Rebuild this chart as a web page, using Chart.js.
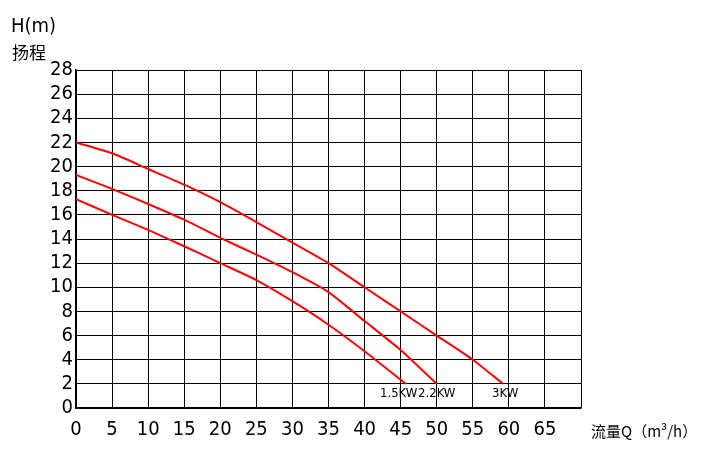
<!DOCTYPE html>
<html>
<head>
<meta charset="utf-8">
<script src="https://cdn.jsdelivr.net/npm/chart.js@4/dist/chart.umd.min.js"></script>
<style>
  html, body { margin: 0; padding: 0; background: #fff; }
  #wrap { width: 703px; height: 454px; position: relative; }
</style>
</head>
<body>
<div id="wrap"><canvas id="pumpChart"></canvas></div>
<script>
// pump curves, flow Q (m3/h) vs head H (m)
const flow15 = [0, 5, 10, 15, 20, 25, 30, 35, 40, 45.7];
const head15 = [17.3, 16.0, 14.75, 13.4, 12.0, 10.6, 8.85, 6.9, 4.7, 2];

const flow22 = [0, 5, 10, 15, 20, 25, 30, 35, 40, 45, 50];
const head22 = [19.3, 18.15, 16.9, 15.6, 14.1, 12.7, 11.25, 9.6, 7.2, 4.8, 2];

const flow30 = [0, 5, 10, 15, 20, 25, 30, 35, 40, 45, 50, 55, 59.2];
const head30 = [22.0, 21.1, 19.8, 18.5, 17.05, 15.4, 13.7, 12.0, 10.0, 8.0, 6.0, 4.0, 2];

const seriesNames = ['1.5KW', '2.2KW', '3KW'];
const xTicks = [0, 5, 10, 15, 20, 25, 30, 35, 40, 45, 50, 55, 60, 65];

const narrow = '"DejaVu Sans Condensed", "Liberation Sans Narrow", sans-serif';

function pts(xs, ys) {
    return xs.map((x, i) => ({ x: x, y: ys[i] }));
}

// horizontal nudge of the end labels, px
const labelShift = [-7, 0, 2];

// labels at the end of each curve + axis titles
const labelPlugin = {
    id: 'labels',
    afterDraw(chart) {
        const ctx = chart.ctx;
        const xs = chart.scales.x, ys = chart.scales.y;
        ctx.save();
        ctx.fillStyle = '#000';
        ctx.font = '13px ' + narrow;
        ctx.textBaseline = 'top';
        ctx.textAlign = 'center';
        chart.data.datasets.forEach((ds, i) => {
            const last = ds.data[ds.data.length - 1];
            const px = xs.getPixelForValue(last.x);
            const py = ys.getPixelForValue(last.y);
            ctx.fillText(seriesNames[i], px + labelShift[i], py + 3);
        });
        ctx.textAlign = 'left';
        ctx.textBaseline = 'alphabetic';
        ctx.font = '20px ' + narrow;
        ctx.fillText('H(m)', 11, 32);
        ctx.font = '17px "Noto Sans CJK SC"';
        ctx.fillText('扬程', 12, 59);
        ctx.font = '15px "Noto Sans CJK SC"';
        ctx.textBaseline = 'middle';
        ctx.fillText('流量Q（m³/h）', 591, 431);
        ctx.restore();
    }
};

const lineStyle = { borderColor: '#ff0000', borderWidth: 2, pointRadius: 0, fill: false, tension: 0.2 };

new Chart(document.getElementById('pumpChart'), {
    type: 'line',
    data: {
        datasets: [
            Object.assign({ label: seriesNames[0], data: pts(flow15, head15) }, lineStyle),
            Object.assign({ label: seriesNames[1], data: pts(flow22, head22) }, lineStyle),
            Object.assign({ label: seriesNames[2], data: pts(flow30, head30) }, lineStyle)
        ]
    },
    options: {
        responsive: true,
        maintainAspectRatio: false,
        animation: false,
        layout: { padding: { left: 0, top: 70, right: 122, bottom: 0 } },
        plugins: { legend: { display: false }, tooltip: { enabled: false } },
        scales: {
            x: {
                type: 'linear',
                min: 0, max: 70,
                afterFit(s) { s.height = 46; },
                afterBuildTicks(s) { s.ticks = xTicks.concat([70]).map(v => ({ value: v })); },
                ticks: {
                    color: '#000', padding: 10,
                    font: { family: narrow, size: 20 },
                    maxRotation: 0, autoSkip: false,
                    callback: v => (v === 70 ? '' : v)
                },
                grid: { color: '#000', lineWidth: 1, drawTicks: false },
                border: { color: '#000', width: 1.5 }
            },
            y: {
                min: 0, max: 28,
                afterFit(s) { s.width = 76; },
                ticks: {
                    stepSize: 2, color: '#000', padding: 3, autoSkip: false,
                    font: { family: narrow, size: 20 }
                },
                grid: { color: '#000', lineWidth: 1, drawTicks: false },
                border: { color: '#000', width: 1.5 }
            }
        }
    },
    plugins: [labelPlugin]
});
</script>
</body>
</html>
